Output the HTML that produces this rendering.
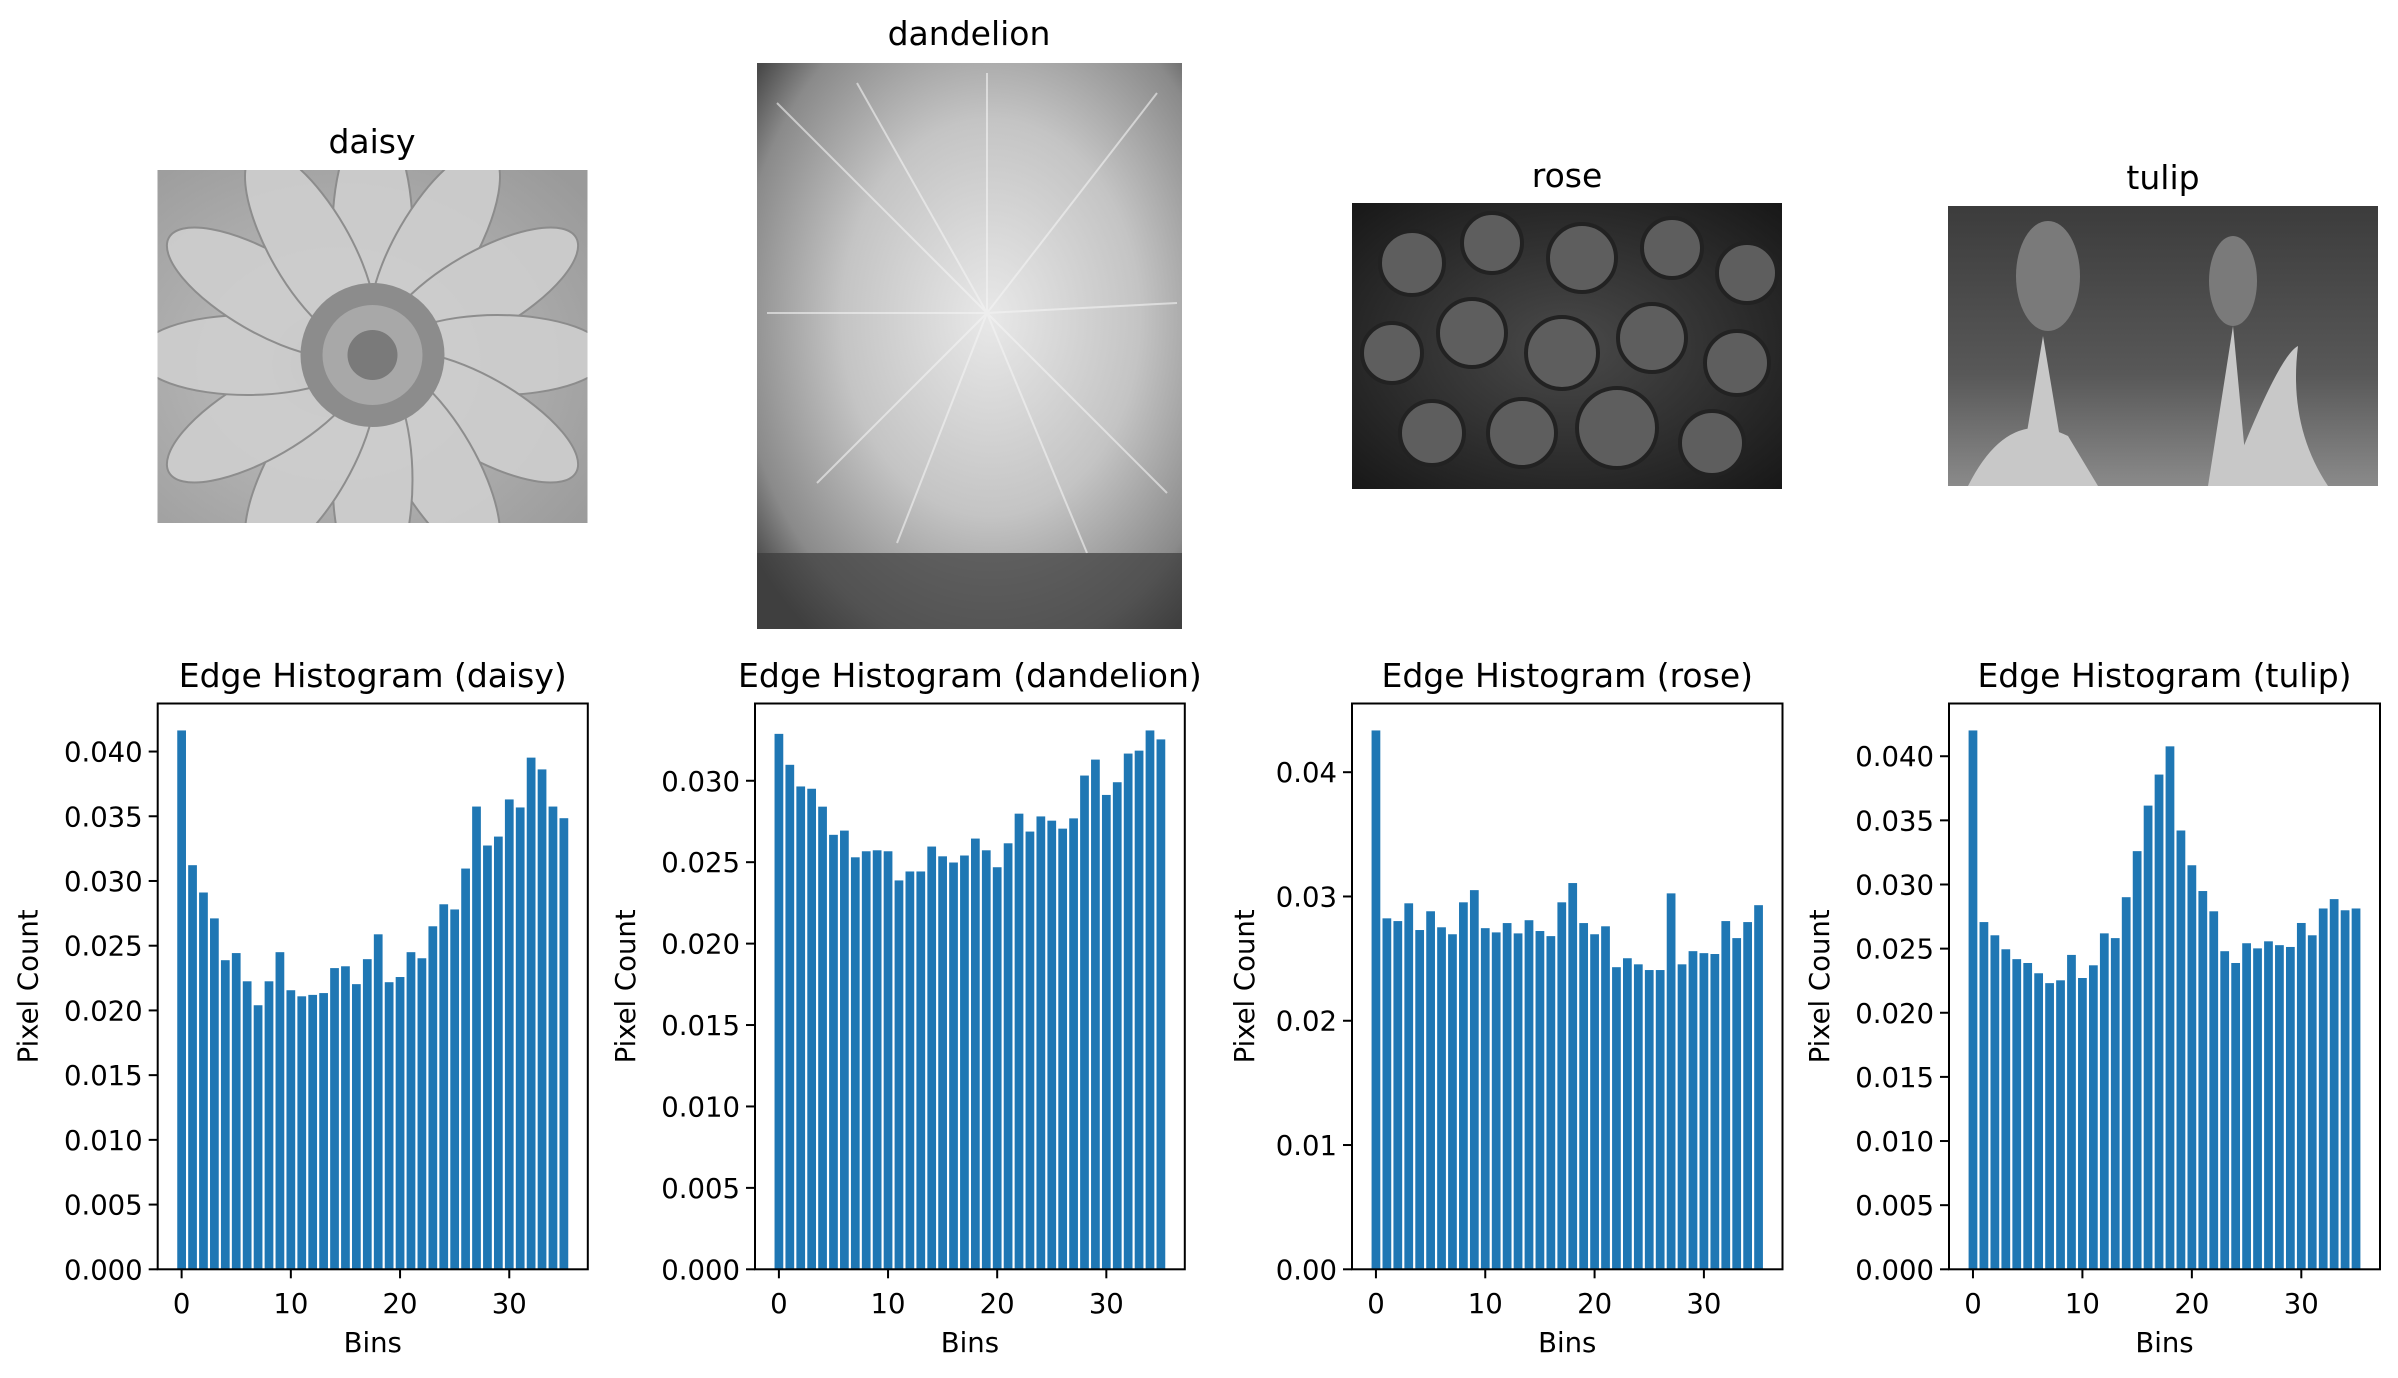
<!DOCTYPE html>
<html><head><meta charset="utf-8"><style>
html,body{margin:0;padding:0;background:#fff;}
svg{display:block;}
text{font-family:"DejaVu Sans","Liberation Sans",sans-serif;fill:#000;}
</style></head><body>
<svg id="fig" width="2398" height="1378" viewBox="0 0 2398 1378" xmlns="http://www.w3.org/2000/svg">
<defs>
<radialGradient id="gDaisy" cx="0.42" cy="0.55" r="0.75"><stop offset="0" stop-color="#8e8e8e"/><stop offset="0.25" stop-color="#b8b8b8"/><stop offset="1" stop-color="#9a9a9a"/></radialGradient>
<radialGradient id="gDand" cx="0.55" cy="0.45" r="0.7"><stop offset="0" stop-color="#e8e8e8"/><stop offset="0.5" stop-color="#c4c4c4"/><stop offset="0.85" stop-color="#8a8a8a"/><stop offset="1" stop-color="#4a4a4a"/></radialGradient>
<radialGradient id="gRose" cx="0.5" cy="0.5" r="0.7"><stop offset="0" stop-color="#4a4a4a"/><stop offset="1" stop-color="#181818"/></radialGradient>
<linearGradient id="gTulip" x1="0" y1="0" x2="0" y2="1"><stop offset="0" stop-color="#3c3c3c"/><stop offset="0.6" stop-color="#585858"/><stop offset="1" stop-color="#8a8a8a"/></linearGradient>
</defs>

<g>
<text x="372" y="153" font-size="33" text-anchor="middle">daisy</text>
<svg x="157.5" y="170" width="430" height="353" viewBox="0 0 430 353">
<rect width="430" height="353" fill="url(#gDaisy)"/>
<g fill="#cfcfcf" stroke="#8a8a8a" stroke-width="2" opacity="0.9">
<ellipse cx="215" cy="60" rx="40" ry="110" transform="rotate(0 215 185)"/>
<ellipse cx="215" cy="60" rx="40" ry="110" transform="rotate(30 215 185)"/>
<ellipse cx="215" cy="60" rx="40" ry="110" transform="rotate(60 215 185)"/>
<ellipse cx="215" cy="60" rx="40" ry="110" transform="rotate(90 215 185)"/>
<ellipse cx="215" cy="60" rx="40" ry="110" transform="rotate(120 215 185)"/>
<ellipse cx="215" cy="60" rx="40" ry="110" transform="rotate(150 215 185)"/>
<ellipse cx="215" cy="60" rx="40" ry="110" transform="rotate(180 215 185)"/>
<ellipse cx="215" cy="60" rx="40" ry="110" transform="rotate(210 215 185)"/>
<ellipse cx="215" cy="60" rx="40" ry="110" transform="rotate(240 215 185)"/>
<ellipse cx="215" cy="60" rx="40" ry="110" transform="rotate(270 215 185)"/>
<ellipse cx="215" cy="60" rx="40" ry="110" transform="rotate(300 215 185)"/>
<ellipse cx="215" cy="60" rx="40" ry="110" transform="rotate(330 215 185)"/>
</g>
<circle cx="215" cy="185" r="72" fill="#8c8c8c"/>
<circle cx="215" cy="185" r="50" fill="#a8a8a8"/>
<circle cx="215" cy="185" r="25" fill="#7a7a7a"/>
</svg>
</g>

<g>
<text x="969" y="45" font-size="33" text-anchor="middle">dandelion</text>
<svg x="757" y="63" width="425" height="566" viewBox="0 0 425 566">
<rect width="425" height="566" fill="url(#gDand)"/>
<g stroke="#f4f4f4" stroke-width="2" opacity="0.6">
<line x1="230" y1="250" x2="20" y2="40"/><line x1="230" y1="250" x2="400" y2="30"/>
<line x1="230" y1="250" x2="60" y2="420"/><line x1="230" y1="250" x2="410" y2="430"/>
<line x1="230" y1="250" x2="230" y2="10"/><line x1="230" y1="250" x2="10" y2="250"/>
<line x1="230" y1="250" x2="420" y2="240"/><line x1="230" y1="250" x2="140" y2="480"/>
<line x1="230" y1="250" x2="330" y2="490"/><line x1="230" y1="250" x2="100" y2="20"/>
</g>
<rect y="490" width="425" height="76" fill="#3a3a3a" opacity="0.7"/>
</svg>
</g>

<g>
<text x="1567" y="187" font-size="33" text-anchor="middle">rose</text>
<svg x="1352" y="203" width="430" height="286" viewBox="0 0 430 286">
<rect width="430" height="286" fill="url(#gRose)"/>
<g fill="#5e5e5e" stroke="#222" stroke-width="4">
<circle cx="60" cy="60" r="32"/><circle cx="140" cy="40" r="30"/><circle cx="230" cy="55" r="34"/><circle cx="320" cy="45" r="30"/><circle cx="395" cy="70" r="30"/>
<circle cx="40" cy="150" r="30"/><circle cx="120" cy="130" r="34"/><circle cx="210" cy="150" r="36"/><circle cx="300" cy="135" r="34"/><circle cx="385" cy="160" r="32"/>
<circle cx="80" cy="230" r="32"/><circle cx="170" cy="230" r="34"/><circle cx="265" cy="225" r="40"/><circle cx="360" cy="240" r="32"/>
</g>
</svg>
</g>

<g>
<text x="2163" y="189" font-size="33" text-anchor="middle">tulip</text>
<svg x="1948" y="206" width="430" height="280" viewBox="0 0 430 280">
<rect width="430" height="280" fill="url(#gTulip)"/>
<g fill="#7a7a7a">
<ellipse cx="100" cy="70" rx="32" ry="55"/><ellipse cx="285" cy="75" rx="24" ry="45"/>
</g>
<g fill="#c8c8c8">
<path d="M70 280 L95 130 L120 280 Z"/><path d="M20 280 Q60 200 120 230 L150 280 Z"/>
<path d="M260 280 L285 120 L300 280 Z"/><path d="M280 280 Q330 150 350 140 Q340 220 380 280 Z"/>
</g>
</svg>
</g>

<g id="charts"></g>
</svg>
<script>
const categories = Array.from({length:36},(_, i)=>i);
const daisyValues = [0.04163,0.03122,0.02911,0.02711,0.02388,0.02443,0.02225,0.0204,0.02225,0.0245,0.02156,0.02109,0.0212,0.02134,0.02327,0.02341,0.02203,0.02396,0.02588,0.02218,0.02258,0.0245,0.02403,0.0265,0.0282,0.0278,0.03096,0.03575,0.03274,0.03343,0.0363,0.03568,0.03953,0.03862,0.03575,0.03485];
const dandelionValues = [0.03288,0.03098,0.02965,0.02951,0.02841,0.02668,0.02694,0.0253,0.02567,0.02573,0.02567,0.02388,0.02443,0.02443,0.02596,0.02536,0.02498,0.02541,0.02645,0.02573,0.02469,0.02616,0.02798,0.02688,0.02781,0.02755,0.02706,0.02769,0.03032,0.0313,0.02913,0.02991,0.03167,0.03185,0.03309,0.03254];
const roseValues = [0.04336,0.02824,0.02802,0.02945,0.0273,0.02881,0.02752,0.02696,0.02953,0.03051,0.02745,0.02711,0.02786,0.02703,0.02809,0.02722,0.02681,0.02953,0.03108,0.02786,0.02696,0.0276,0.02431,0.02503,0.02454,0.02408,0.02408,0.03025,0.02454,0.0256,0.02544,0.02537,0.02802,0.02665,0.02794,0.0293];
const tulipValues = [0.04201,0.02707,0.02604,0.02495,0.02418,0.02388,0.02308,0.02231,0.02253,0.02451,0.02271,0.0237,0.02619,0.02582,0.02901,0.0326,0.03615,0.03857,0.04077,0.03421,0.0315,0.02949,0.02791,0.0248,0.02388,0.02542,0.02502,0.02557,0.02527,0.02513,0.027,0.02604,0.02813,0.02886,0.02799,0.02813];
const xTicks = [0,10,20,30];
const yTicksFine = [0,0.005,0.01,0.015,0.02,0.025,0.03,0.035,0.04];
const yTicksDand = [0,0.005,0.01,0.015,0.02,0.025,0.03];
const yTicksRose = [0,0.01,0.02,0.03,0.04];

const NS='http://www.w3.org/2000/svg';
const root=document.getElementById('charts');
function mk(tag,attrs,parent){const e=document.createElementNS(NS,tag);for(const k in attrs)e.setAttribute(k,attrs[k]);parent.appendChild(e);return e;}

function drawChart(name, values, yTicks, decimals, left, right){
  const top=703.5, bottom=1269.3;
  const g=mk('g',{},root);
  
  
  const ymax=Math.max(...values)*1.05;
  const xmin=-0.4-1.79, xmax=35.4+1.79;
  const xs=v=>left+(v-xmin)/(xmax-xmin)*(right-left);
  const ys=v=>bottom-v/ymax*(bottom-top);
  categories.forEach((c,i)=>{
    const r=mk('rect',{x:xs(c-0.4),y:ys(values[i]),width:xs(c+0.4)-xs(c-0.4),height:bottom-ys(values[i]),fill:'#1f77b4'},g);
    
    
  });
  const frame=mk('rect',{x:left,y:top,width:right-left,height:bottom-top,fill:'none',stroke:'#000','stroke-width':2},g);
  
  
  xTicks.forEach(t=>{
    const x=xs(t);
    mk('line',{x1:x,y1:bottom,x2:x,y2:bottom+9,stroke:'#000','stroke-width':2},g);
    const tx=mk('text',{x:x,y:1313,'font-size':27.5,'text-anchor':'middle'},g);
    tx.textContent=String(t);
    
    
  });
  yTicks.forEach(t=>{
    const y=ys(t);
    mk('line',{x1:left-9,y1:y,x2:left,y2:y,stroke:'#000','stroke-width':2},g);
    const tx=mk('text',{x:left-15,y:y+10,'font-size':27.5,'text-anchor':'end'},g);
    tx.textContent=t.toFixed(decimals);
    
    
  });
  const title=mk('text',{x:(left+right)/2,y:687,'font-size':33,'text-anchor':'middle'},g);
  title.textContent='Edge Histogram ('+name+')';
  
  
  const xl=mk('text',{x:(left+right)/2,y:1352,'font-size':27.5,'text-anchor':'middle'},g);
  xl.textContent='Bins';
  
  
  const labelX = decimals===2 ? left-98 : left-120;
  const yl=mk('text',{x:labelX,y:(top+bottom)/2,'font-size':27.5,'text-anchor':'middle',transform:'rotate(-90 '+labelX+' '+((top+bottom)/2)+')'},g);
  yl.textContent='Pixel Count';
  
  
}
drawChart('daisy', daisyValues, yTicksFine, 3, 157.7, 587.8);
drawChart('dandelion', dandelionValues, yTicksDand, 3, 755, 1184.8);
drawChart('rose', roseValues, yTicksRose, 2, 1352, 1782.5);
drawChart('tulip', tulipValues, yTicksFine, 3, 1949, 2380);
</script>
</body></html>
